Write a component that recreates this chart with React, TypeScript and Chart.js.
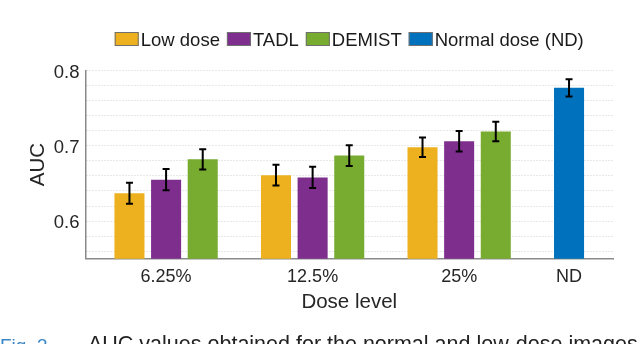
import React, { useEffect, useRef } from "react";
import { Chart, registerables } from "chart.js";

Chart.register(...registerables);

// ---- data ----
const categories = ["6.25%", "12.5%", "25%", "ND"];
const categoryPositions = [1, 2, 3, 3.75];
const seriesNames = ["Low dose", "TADL", "DEMIST", "Normal dose (ND)"];
const lowDose = [0.637, 0.661, 0.698];
const lowDoseErr = [0.014, 0.0137, 0.013];
const tadl = [0.655, 0.658, 0.706];
const tadlErr = [0.014, 0.014, 0.0135];
const demist = [0.682, 0.687, 0.719];
const demistErr = [0.0135, 0.0137, 0.013];
const normalDose = [0.777];
const normalDoseErr = [0.0115];
const yTickLabels = [0.6, 0.7, 0.8];

const COLORS = ["#EDB120", "#7E2F8E", "#77AC30", "#0072BD"];
const FONT = '"Liberation Sans", Arial, Helvetica, sans-serif';
const TEXT = "#262626";
const GROUP_OFFSET = 0.25;

const errorBarPlugin = {
  id: "errorBars",
  afterDatasetsDraw(chart: any) {
    const ctx = chart.ctx;
    const y = chart.scales.y;
    ctx.save();
    ctx.strokeStyle = "#000";
    ctx.lineWidth = 2;
    chart.data.datasets.forEach((ds: any, i: number) => {
      const meta = chart.getDatasetMeta(i);
      ds.data.forEach((pt: any, j: number) => {
        const e = ds.errors[j];
        const bar = meta.data[j];
        if (!bar) return;
        const x = bar.x;
        const yt = y.getPixelForValue(pt.y + e);
        const yb = y.getPixelForValue(pt.y - e);
        ctx.beginPath();
        ctx.moveTo(x, yt);
        ctx.lineTo(x, yb);
        ctx.moveTo(x - 3.5, yt);
        ctx.lineTo(x + 3.5, yt);
        ctx.moveTo(x - 3.5, yb);
        ctx.lineTo(x + 3.5, yb);
        ctx.stroke();
      });
    });
    ctx.restore();
  },
};

const legendPlugin = {
  id: "matlabLegend",
  afterDraw(chart: any) {
    const ctx = chart.ctx;
    const area = chart.chartArea;
    ctx.save();
    ctx.font = `18.5px ${FONT}`;
    const boxW = 24;
    const boxH = 14;
    const gapText = 2;
    const gapItem = 7;
    const items = chart.data.datasets.map((ds: any) => ({
      label: ds.label,
      color: ds.backgroundColor,
      w: ctx.measureText(ds.label).width,
    }));
    const total =
      items.reduce((s: number, it: any) => s + boxW + gapText + it.w, 0) +
      gapItem * (items.length - 1);
    let x = (area.left + area.right) / 2 - total / 2;
    const boxTop = 32;
    items.forEach((it: any) => {
      ctx.fillStyle = it.color;
      ctx.fillRect(x, boxTop, boxW, boxH);
      ctx.strokeStyle = "#707070";
      ctx.lineWidth = 1;
      ctx.strokeRect(x + 0.5, boxTop + 0.5, boxW - 1, boxH - 1);
      ctx.fillStyle = "#1a1a1a";
      ctx.textBaseline = "alphabetic";
      ctx.textAlign = "left";
      ctx.fillText(it.label, x + boxW + gapText, 46.3);
      x += boxW + gapText + it.w + gapItem;
    });
    ctx.restore();
  },
};

function makeSeries(values: number[], groupIdx: number[], offset: number) {
  return values.map((v, k) => ({ x: categoryPositions[groupIdx[k]] + offset, y: v }));
}

export default function App() {
  const ref = useRef<HTMLCanvasElement>(null);

  useEffect(() => {
    if (!ref.current) return;
    const groups = [0, 1, 2];
    const common = {
      type: "bar" as const,
      grouped: false,
      barPercentage: 0.82,
      categoryPercentage: 1,
      borderWidth: 0,
    };
    const chart = new Chart(ref.current, {
      type: "bar",
      data: {
        datasets: [
          { ...common, label: seriesNames[0], data: makeSeries(lowDose, groups, -GROUP_OFFSET), errors: lowDoseErr, backgroundColor: COLORS[0] },
          { ...common, label: seriesNames[1], data: makeSeries(tadl, groups, 0), errors: tadlErr, backgroundColor: COLORS[1] },
          { ...common, label: seriesNames[2], data: makeSeries(demist, groups, GROUP_OFFSET), errors: demistErr, backgroundColor: COLORS[2] },
          { ...common, label: seriesNames[3], data: makeSeries(normalDose, [3], 0), errors: normalDoseErr, backgroundColor: COLORS[3] },
        ] as any,
      },
      options: {
        animation: false,
        responsive: false,
        devicePixelRatio: 1,
        layout: { padding: { left: 26, right: 27, top: 70.5, bottom: 29 } },
        plugins: { legend: { display: false }, tooltip: { enabled: false } },
        scales: {
          x: {
            type: "linear",
            min: 0.45,
            max: 4.05,
            offset: false,
            afterBuildTicks: (scale: any) => {
              scale.ticks = categoryPositions.map((v) => ({ value: v }));
            },
            afterFit: (scale: any) => {
              scale.height = 56.3;
            },
            grid: { display: false, drawTicks: false, offset: false },
            border: { display: true, color: "#8a8a8a", width: 1.5 },
            ticks: {
              padding: 8,
              autoSkip: false,
              maxRotation: 0,
              color: TEXT,
              font: { family: FONT, size: 18 },
              callback: (_v: any, i: number) => categories[i],
            },
            title: {
              display: true,
              text: "Dose level",
              color: TEXT,
              font: { family: FONT, size: 20.5 },
              padding: 0,
            },
          },
          y: {
            min: 0.55,
            max: 0.8,
            afterBuildTicks: (scale: any) => {
              const t: any[] = [];
              for (let i = 28; i <= 40; i++) t.push({ value: i / 50 });
              scale.ticks = t;
            },
            afterFit: (scale: any) => {
              scale.width = 59.5;
            },
            grid: {
              drawTicks: false,
              color: "rgba(0,0,0,0.18)",
              lineWidth: 1,
            },
            border: { display: true, color: "#8a8a8a", width: 1.5, dash: [1, 2] },
            ticks: {
              padding: 6,
              labelOffset: 2,
              autoSkip: false,
              color: TEXT,
              font: { family: FONT, size: 18.5 },
              callback: (v: any) => {
                const m = yTickLabels.find((t) => Math.abs(t - v) < 1e-6);
                return m !== undefined ? m.toFixed(1) : "";
              },
            },
            title: {
              display: true,
              text: "AUC",
              color: TEXT,
              font: { family: FONT, size: 20.5 },
              padding: 0,
            },
          },
        },
      } as any,
      plugins: [errorBarPlugin, legendPlugin],
    });
    return () => chart.destroy();
  }, []);

  return (
    <div
      style={{
        position: "absolute",
        left: 0,
        top: 0,
        width: 640,
        height: 344,
        overflow: "hidden",
        background: "#fff",
      }}
    >
      <canvas ref={ref} width={640} height={344} style={{ display: "block", width: 640, height: 344 }} />
      <div
        style={{
          position: "absolute",
          top: 335,
          left: 0,
          width: 640,
          fontFamily: FONT,
          fontSize: 19,
          lineHeight: "21px",
          whiteSpace: "nowrap",
          color: "#222",
        }}
      >
        <span style={{ color: "#3a85c5" }}>Fig. 3.</span>
        <span style={{ position: "absolute", left: 88, top: -1, fontSize: 21.5 }}>
          AUC values obtained for the normal and low-dose images
        </span>
      </div>
    </div>
  );
}
